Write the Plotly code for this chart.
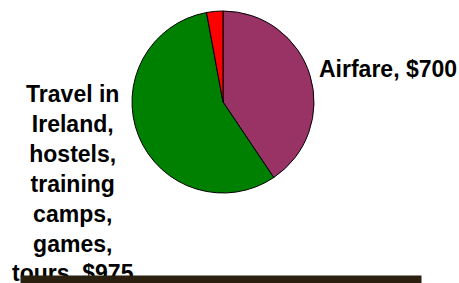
import plotly.graph_objects as go

labels = ["Airfare", "Travel in Ireland, hostels, training camps, games, tours", "Other"]
values = [700, 975, 50]
colors = ["#993366", "#008000", "#FF0000"]

W, H = 459, 283

fig = go.Figure(go.Pie(
    labels=labels, values=values, sort=False, direction="clockwise", rotation=0,
    marker=dict(colors=colors, line=dict(color="black", width=1)),
    textinfo="none", hoverinfo="label+value", showlegend=False,
    domain=dict(x=[132 / W, 314 / W], y=[1 - 193 / H, 1 - 11 / H]),
))

font = dict(family="Liberation Sans, Arial, sans-serif", size=23, color="black")

def money(v):
    return "${:,}".format(v)

air_text = "<b>{}, {}</b>".format(labels[0], money(values[0]))
left_lines = ["Travel in", "Ireland,", "hostels,", "training", "camps,", "games,",
              "tours, " + money(values[1])]
left_text = "<b>" + "<br>".join(left_lines) + "</b>"

fig.update_layout(
    width=W, height=H, margin=dict(l=0, r=0, t=0, b=0),
    paper_bgcolor="white", plot_bgcolor="white",
    annotations=[
        dict(text=air_text, x=317 / W, y=1 - 69 / H, xref="paper", yref="paper",
             xanchor="left", yanchor="middle", showarrow=False, font=font),
        dict(text=left_text, x=73 / W, y=1 - 183 / H, xref="paper", yref="paper",
             xanchor="center", yanchor="middle", align="center", showarrow=False, font=font),
        dict(text="\u00a0", x=20 / W, y=-3 / H, xref="paper", yref="paper",
             xanchor="left", yanchor="bottom", width=400, height=9, borderpad=0,
             bgcolor="#2b2010", showarrow=False, font=dict(size=4)),
    ],
)

fig.write_html("out.html", config={"displayModeBar": False},
               post_script="document.body.style.margin='0';")
